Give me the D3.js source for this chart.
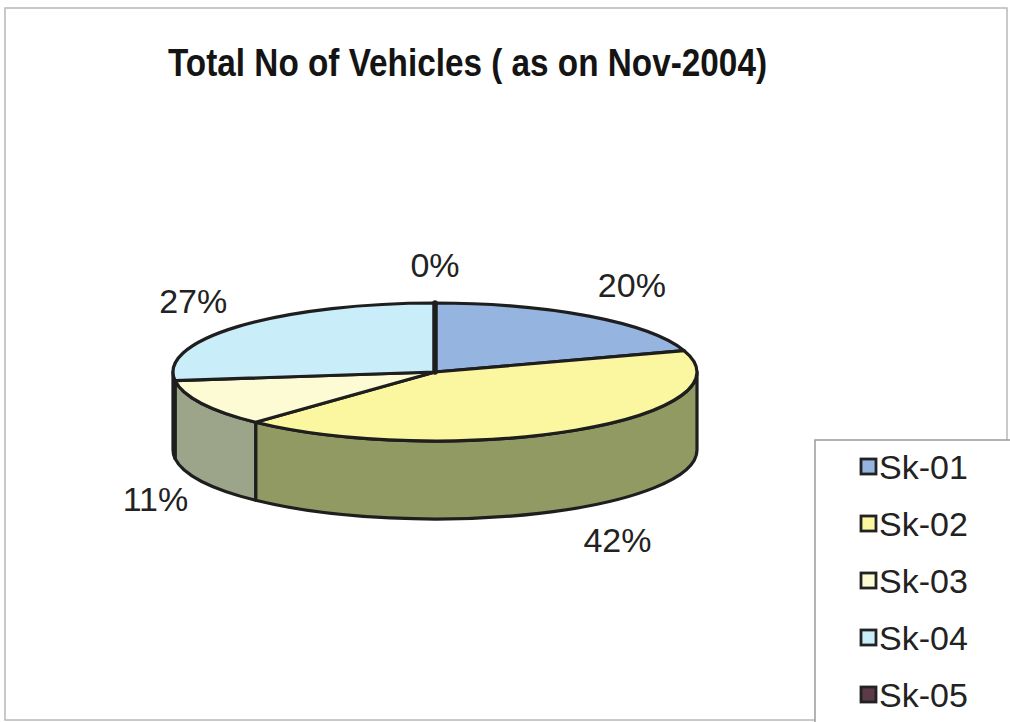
<!DOCTYPE html>
<html>
<head>
<meta charset="utf-8">
<script src="https://cdn.jsdelivr.net/npm/d3@7"></script>
<style>
  html, body { margin: 0; padding: 0; background: #ffffff; }
  svg { display: block; }
  text { font-family: "Liberation Sans", Arial, Helvetica, sans-serif; fill: #222; }
</style>
</head>
<body>
<svg id="chart" width="1010" height="722"></svg>
<script>
// Vehicle share by sector, November 2004
const categories = ["Sk-01", "Sk-02", "Sk-03", "Sk-04", "Sk-05"];
const shares = [20, 42, 11, 27, 0];          // percent of total vehicles
const titleText = "Total No of Vehicles ( as on Nov-2004)";

// Palette: top faces and the darker walls of the 3-D disc
const topColors  = ["#95b4e0", "#fbf7a0", "#fdfbd3", "#caeef9", "#5c3a48"];
const sideColors = ["#5f7290", "#909a62", "#9ca48a", "#7e9aa3", "#3a2530"];

const svg = d3.select("#chart");

// Chart area frame
svg.append("rect")
  .attr("x", 5).attr("y", 8).attr("width", 1002).attr("height", 712)
  .attr("fill", "#fff").attr("stroke", "#b8b8b8").attr("stroke-width", 1.5);

// Title
svg.append("text")
  .attr("x", 168).attr("y", 76)
  .attr("textLength", 599).attr("lengthAdjust", "spacingAndGlyphs")
  .style("font-size", "39px").style("font-weight", "bold").style("fill", "#141414")
  .text(titleText);

// Disc geometry
const cx = 435, cy = 372, rx = 262, ry = 69, depth = 78;

const data = categories.map((c, i) => ({ name: c, value: shares[i], i }));
const arcs = d3.pie().sort(null).value(d => d.value)(data);

const pt = (a, dy = 0) => [cx + rx * Math.sin(a), cy - ry * Math.cos(a) + dy];
const strokeW = 3.2;

// Side walls on the visible front half (angles between PI/2 and 3PI/2)
const walls = svg.append("g");
arcs.forEach(a => {
  const a0 = Math.max(a.startAngle, Math.PI / 2);
  const a1 = Math.min(a.endAngle, 3 * Math.PI / 2);
  if (a1 <= a0) return;
  const t0 = pt(a0), t1 = pt(a1), b0 = pt(a0, depth), b1 = pt(a1, depth);
  const d = `M${t0}A${rx},${ry} 0 0 1 ${t1}L${b1}A${rx},${ry} 0 0 0 ${b0}Z`;
  walls.append("path")
    .attr("d", d)
    .attr("fill", sideColors[a.data.i])
    .attr("stroke", "#1e1e1e").attr("stroke-width", strokeW)
    .attr("stroke-linejoin", "round");
});

// Top faces
const tops = svg.append("g");
arcs.forEach(a => {
  const p0 = pt(a.startAngle), p1 = pt(a.endAngle);
  const large = (a.endAngle - a.startAngle) > Math.PI ? 1 : 0;
  const d = `M${cx},${cy}L${p0}A${rx},${ry} 0 ${large} 1 ${p1}Z`;
  tops.append("path")
    .attr("d", d)
    .attr("fill", topColors[a.data.i])
    .attr("stroke", "#1e1e1e")
    .attr("stroke-width", a.data.value === 0 ? 5.5 : strokeW)
    .attr("stroke-linejoin", "round");
});

// Percentage labels anchored just outside each slice's mid-angle
const lr = 277, lry = ry + 38;
const fmt = d3.format(".0%");
const total = d3.sum(shares);
const mid = a => (a.startAngle + a.endAngle) / 2;
svg.append("g").selectAll("text")
  .data(arcs)
  .join("text")
  .style("font-size", "34px")
  .attr("text-anchor", a => {
    const s = Math.sin(mid(a));
    return Math.abs(s) < 0.15 ? "middle" : (s > 0 ? "start" : "end");
  })
  .attr("x", a => cx + lr * Math.sin(mid(a)))
  .attr("y", a => {
    const c = Math.cos(mid(a));
    return cy - lry * c + (c < 0 ? depth : 0) + 12;
  })
  .text(a => fmt(a.data.value / total));

// Legend
const legend = svg.append("g");
legend.append("rect")
  .attr("x", 815).attr("y", 440).attr("width", 220).attr("height", 300)
  .attr("fill", "#fff").attr("stroke", "#9a9a9a").attr("stroke-width", 1.5);

const rowY = d3.scalePoint().domain(categories).range([467, 695]);
const items = legend.selectAll("g.item").data(categories).join("g")
  .attr("class", "item")
  .attr("transform", d => `translate(0,${rowY(d)})`);
items.append("rect")
  .attr("x", 861).attr("y", -8).attr("width", 15).attr("height", 15)
  .attr("fill", (d, i) => topColors[i])
  .attr("stroke", "#222").attr("stroke-width", 2.8);
items.append("text")
  .attr("x", 879).attr("y", 12)
  .style("font-size", "34px")
  .text(d => d);
</script>
</body>
</html>
